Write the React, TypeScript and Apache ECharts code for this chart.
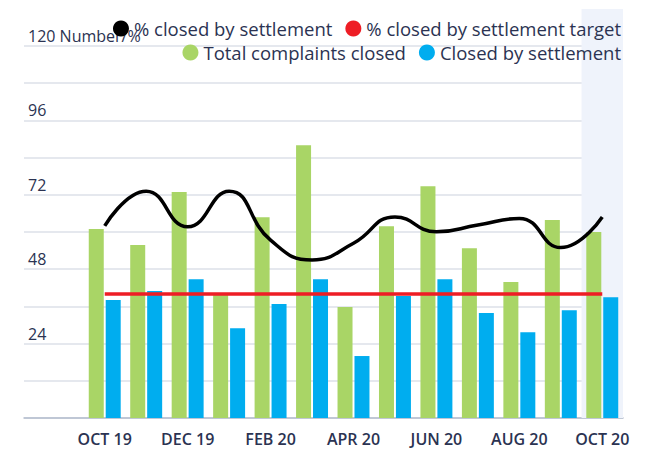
import React, { useEffect, useRef } from "react";
import * as echarts from "echarts";

const months = ["OCT 19", "NOV 19", "DEC 19", "JAN 20", "FEB 20", "MAR 20", "APR 20", "MAY 20", "JUN 20", "JUL 20", "AUG 20", "SEP 20", "OCT 20"];
const totalClosed = [61, 55.8, 72.9, 40.3, 64.8, 88, 35.8, 61.9, 74.8, 54.8, 43.9, 63.9, 60];
const closedBySettlement = [38.1, 41, 44.8, 29, 36.8, 44.8, 20, 39.4, 44.8, 33.9, 27.7, 34.8, 39];
const pctClosed = [62, 73.2, 61.7, 73.2, 57.4, 51, 56.4, 64.9, 60.1, 62.3, 64.4, 55, 64.9];
const pctTarget = [40, 40, 40, 40, 40, 40, 40, 40, 40, 40, 40, 40, 40];
const highlightMonth = "OCT 20";

const FONT = "'Open Sans', 'Noto Sans', sans-serif";
const TEXT = "#2b3352";

export default function App() {
  const ref = useRef<HTMLDivElement>(null);
  useEffect(() => {
    if (!ref.current) return;
    const chart = echarts.init(ref.current, null, { renderer: "svg" });
    const hi = months.indexOf(highlightMonth);
    chart.setOption({
      animation: false,
      textStyle: { fontFamily: FONT },
      legend: [
        {
          data: ["% closed by settlement", "% closed by settlement target"],
          right: 20,
          top: 14,
          icon: "circle",
          itemWidth: 16,
          itemHeight: 16,
          itemGap: 13,
          textStyle: { color: TEXT, fontSize: 18.5, fontFamily: FONT },
        },
        {
          data: ["Total complaints closed", "Closed by settlement"],
          right: 20,
          top: 38,
          icon: "circle",
          itemWidth: 16,
          itemHeight: 16,
          itemGap: 13,
          textStyle: { color: TEXT, fontSize: 18.5, fontFamily: FONT },
        },
      ],
      grid: [
        { left: 84, right: 23, top: 9, bottom: 33 },
        { left: 24, right: 23, top: 46, bottom: 33 },
      ],
      xAxis: [
        {
          type: "category",
          gridIndex: 0,
          data: months,
          axisLine: { show: false },
          axisTick: { show: false },
          axisLabel: {
            interval: 1,
            color: TEXT,
            fontSize: 16,
            fontWeight: 600,
            fontFamily: FONT,
            margin: 13,
          },
        },
        {
          type: "value",
          gridIndex: 1,
          min: 0,
          max: 1,
          axisLine: { show: true, lineStyle: { color: "#b3bccd", width: 1.5 } },
          axisTick: { show: false },
          axisLabel: { show: false },
          splitLine: { show: false },
        },
        {
          type: "value",
          gridIndex: 0,
          min: -0.5,
          max: months.length - 0.5,
          show: false,
          splitLine: { show: false },
        },
      ],
      yAxis: [
        {
          type: "value",
          gridIndex: 0,
          min: 0,
          max: 132,
          interval: 12,
          show: false,
          splitLine: { show: false },
        },
        {
          type: "value",
          gridIndex: 1,
          min: 0,
          max: 120,
          interval: 12,
          axisLine: { show: false },
          axisTick: { show: false },
          splitLine: { show: true, lineStyle: { color: "#dde1e8", width: 1.5 } },
          axisLabel: {
            inside: true,
            margin: 4,
            verticalAlign: "bottom",
            padding: [0, 0, 2, 0],
            color: TEXT,
            fontSize: 16,
            fontFamily: FONT,
            formatter: (v: number) => {
              if (v === 0 || v % 24 !== 0) return "";
              return v === 120 ? "120 Number/%" : String(v);
            },
          },
        },
      ],
      series: [
        {
          name: "highlight",
          type: "line",
          xAxisIndex: 2,
          yAxisIndex: 0,
          data: [[hi, 0]],
          showSymbol: false,
          symbol: "none",
          lineStyle: { width: 0 },
          silent: true,
          z: 0,
          markArea: {
            silent: true,
            itemStyle: { color: "#eff3fb" },
            data: [[{ xAxis: hi - 0.5 }, { xAxis: hi + 0.5 }]],
          },
        },
        {
          name: "Total complaints closed",
          type: "bar",
          xAxisIndex: 0,
          yAxisIndex: 0,
          data: totalClosed,
          barWidth: 15,
          barGap: "13%",
          itemStyle: { color: "#a9d566" },
        },
        {
          name: "Closed by settlement",
          type: "bar",
          xAxisIndex: 0,
          yAxisIndex: 0,
          data: closedBySettlement,
          barWidth: 15,
          itemStyle: { color: "#00adef" },
        },
        {
          name: "% closed by settlement target",
          type: "line",
          xAxisIndex: 0,
          yAxisIndex: 0,
          data: pctTarget,
          showSymbol: false,
          symbol: "circle",
          itemStyle: { color: "#ee1d25" },
          lineStyle: { color: "#ee1d25", width: 3.5 },
          z: 3,
        },
        {
          name: "% closed by settlement",
          type: "line",
          xAxisIndex: 0,
          yAxisIndex: 0,
          data: pctClosed,
          smooth: 0.5,
          showSymbol: false,
          symbol: "circle",
          itemStyle: { color: "#000000" },
          lineStyle: { color: "#000000", width: 3.5 },
          z: 4,
        },
      ],
    });
    return () => chart.dispose();
  }, []);
  return <div ref={ref} style={{ width: 646, height: 451, position: "absolute", left: 0, top: 0 }} />;
}
